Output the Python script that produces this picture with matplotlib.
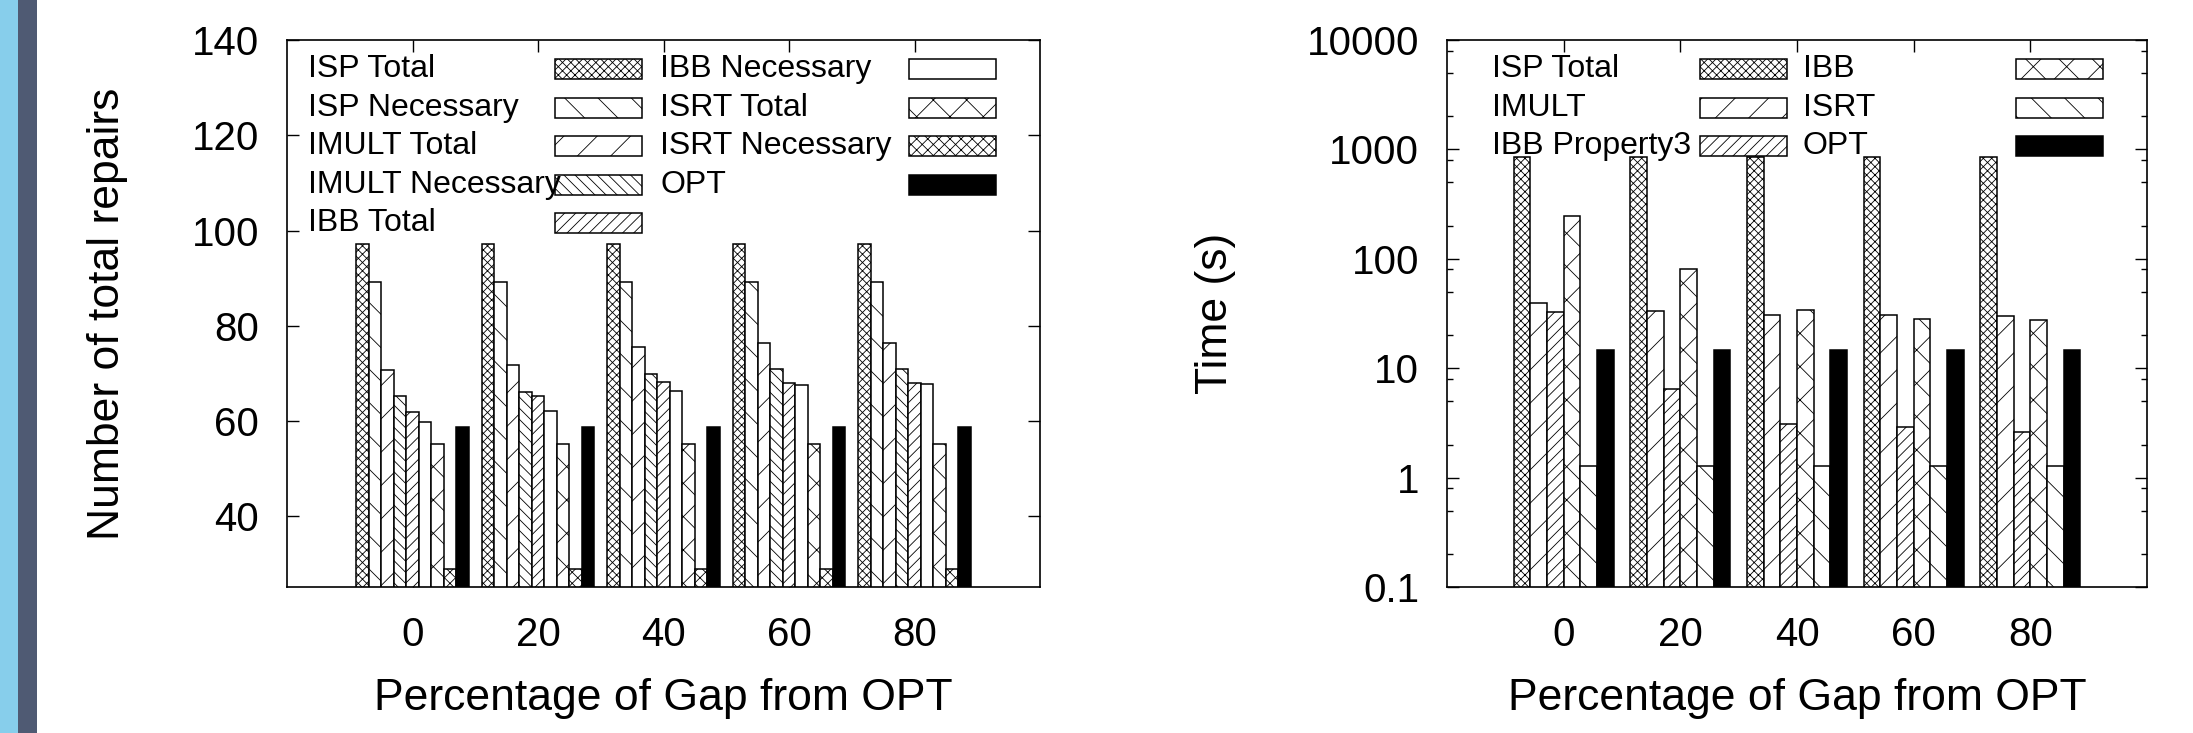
import matplotlib
matplotlib.use("Agg")
import matplotlib.pyplot as plt
from matplotlib.patches import Rectangle
from matplotlib.ticker import FixedLocator, LogLocator, NullFormatter

W, H = 2193, 733

plt.rcParams['font.family'] = ['Liberation Sans', 'DejaVu Sans']
plt.rcParams['hatch.color'] = 'black'
plt.rcParams['hatch.linewidth'] = 0.6

# x categories (percentage of gap from OPT)
gaps = [0, 20, 40, 60, 80]
gap_ticks = ["0", "20", "40", "60", "80"]

# left panel: number of total repairs
repair_labels = ["ISP Total", "ISP Necessary", "IMULT Total", "IMULT Necessary",
                 "IBB Total", "IBB Necessary", "ISRT Total", "ISRT Necessary", "OPT"]
isp_total = [97.1, 97.1, 97.1, 97.1, 97.1]
isp_necessary = [89.2, 89.2, 89.2, 89.2, 89.2]
imult_total = [70.8, 71.7, 75.5, 76.5, 76.5]
imult_necessary = [65.2, 66.1, 70.0, 70.9, 70.9]
ibb_total = [62.0, 65.2, 68.2, 68.1, 68.1]
ibb_necessary = [59.8, 62.2, 66.4, 67.6, 67.9]
isrt_total = [55.2, 55.2, 55.2, 55.2, 55.2]
isrt_necessary = [29.0, 29.0, 29.0, 29.0, 29.0]
opt_repairs = [58.7, 58.7, 58.7, 58.7, 58.7]
repair_ticks = [40, 60, 80, 100, 120, 140]

# right panel: time (s)
time_labels = ["ISP Total", "IMULT", "IBB Property3", "IBB", "ISRT", "OPT"]
isp_time = [859, 859, 859, 859, 859]
imult_time = [39.7, 33.2, 30.5, 30.5, 29.8]
ibb_prop3_time = [32.6, 6.5, 3.1, 2.9, 2.6]
ibb_time = [244, 80.7, 34.3, 28.4, 27.8]
isrt_time = [1.28, 1.28, 1.28, 1.28, 1.28]
opt_time = [14.7, 14.7, 14.7, 14.7, 14.7]
time_ticks = [0.1, 1, 10, 100, 1000, 10000]
time_ticklabels = ["0.1", "1", "10", "100", "1000", "10000"]

# (hatch, facecolor) per series, gnuplot-like fill patterns
repair_styles = [('xxxx', 'white'), ('\\', 'white'), ('/', 'white'),
                 ('\\\\\\', 'white'), ('///', 'white'), ('', 'white'),
                 ('x', 'white'), ('xxx', 'white'), ('', 'black')]
time_styles = [('xxxx', 'white'), ('/', 'white'), ('///', 'white'),
               ('x', 'white'), ('\\', 'white'), ('', 'black')]


def px(x, y):
    return x / W, 1 - y / H


def style_axes(ax):
    for s in ax.spines.values():
        s.set_linewidth(1.2)
    ax.set_xlim(-20, 100)
    ax.xaxis.set_major_locator(FixedLocator(gaps))
    ax.set_xticklabels(gap_ticks)
    ax.tick_params(axis='both', which='major', direction='in', length=8.5,
                   width=1.0, top=True, right=True, labelsize=29)
    ax.tick_params(axis='both', which='minor', direction='in', length=4.5,
                   width=1.0, top=True, right=True)
    ax.tick_params(axis='x', pad=21)
    ax.tick_params(axis='y', pad=20)
    ax.set_xlabel("Percentage of Gap from OPT", fontsize=32)
    ax.xaxis.set_label_coords(0.5, -0.203)
    ax.xaxis.label.set_va('center')


def draw_bars(ax, series, styles, nser, base):
    width = 20 / (nser + 1)
    for i, (vals, (hatch, face)) in enumerate(zip(series, styles)):
        off = (i - (nser - 1) / 2) * width
        ax.bar([g + off for g in gaps], vals, width=width, bottom=base,
               facecolor=face, edgecolor='black', hatch=hatch, linewidth=1.1, zorder=2)


def draw_key(fig, labels, styles, text_x, box_x, nrows):
    top, step = 69, 38.6
    for i, (lab, (hatch, face)) in enumerate(zip(labels, styles)):
        col, row = divmod(i, nrows)
        yc = top + row * step
        tx, ty = px(text_x[col], yc)
        fig.text(tx, ty, lab, ha='left', va='center', fontsize=23, zorder=5)
        bx, by = px(box_x[col], yc + 10)
        fig.add_artist(Rectangle((bx, by), 87 / W, 20 / H, transform=fig.transFigure,
                                 facecolor=face, edgecolor='black', hatch=hatch,
                                 linewidth=1.1, zorder=5))


fig = plt.figure(figsize=(W / 100, H / 100), dpi=100)
fig.patch.set_facecolor('white')

# decorative stripes on the left edge
fig.add_artist(Rectangle((0, 0), 18 / W, 1, transform=fig.transFigure,
                         facecolor='#87CEEB', edgecolor='none'))
fig.add_artist(Rectangle((18 / W, 0), 19 / W, 1, transform=fig.transFigure,
                         facecolor='#4F5A73', edgecolor='none'))

# left panel
ax1 = fig.add_axes([287 / W, 1 - 587 / H, 753 / W, 547 / H])
repairs = [isp_total, isp_necessary, imult_total, imult_necessary, ibb_total,
           ibb_necessary, isrt_total, isrt_necessary, opt_repairs]
draw_bars(ax1, repairs, repair_styles, len(repairs), 0)
ax1.set_ylim(25.2, 140)
ax1.yaxis.set_major_locator(FixedLocator(repair_ticks))
style_axes(ax1)
ax1.set_ylabel("Number of total repairs", fontsize=32)
ax1.yaxis.set_label_coords((108 - 287) / 753, 0.5)
ax1.yaxis.label.set_va('center')
draw_key(fig, repair_labels, repair_styles, [308, 660], [555, 909], 5)

# right panel
ax2 = fig.add_axes([1447 / W, 1 - 587 / H, 700 / W, 547 / H])
ax2.set_yscale('log')
times = [isp_time, imult_time, ibb_prop3_time, ibb_time, isrt_time, opt_time]
draw_bars(ax2, times, time_styles, len(times), 0.01)
ax2.set_ylim(0.1, 10000)
ax2.yaxis.set_major_locator(FixedLocator(time_ticks))
ax2.set_yticklabels(time_ticklabels)
ax2.yaxis.set_minor_locator(LogLocator(base=10, subs=[2, 5, 8]))
ax2.yaxis.set_minor_formatter(NullFormatter())
style_axes(ax2)
ax2.set_ylabel("Time (s)", fontsize=32)
ax2.yaxis.set_label_coords((1215 - 1447) / 700, 0.5)
ax2.yaxis.label.set_va('center')
draw_key(fig, time_labels, time_styles, [1492, 1803], [1700, 2016], 3)

fig.savefig("out.png", dpi=100)
